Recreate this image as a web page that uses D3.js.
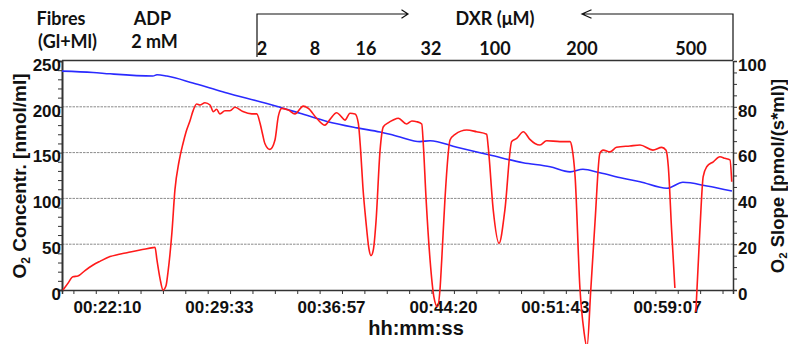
<!DOCTYPE html>
<html>
<head>
<meta charset="utf-8">
<script src="https://cdn.jsdelivr.net/npm/d3@7"></script>
<style>
  html, body { margin: 0; padding: 0; background: #fff; }
  svg { display: block; }
  .ax text { font-family: 'Liberation Sans', Arial, sans-serif; font-weight: bold; font-size: 17px; fill: #111; }
  .ax path, .ax line { stroke: #333; }
  .title { font-family: 'Liberation Sans', Arial, sans-serif; font-weight: bold; fill: #111; }
  .note { font-family: Lato, 'Open Sans', sans-serif; font-weight: bold; font-size: 18px; fill: #111; }
</style>
</head>
<body>
<svg id="chart" width="788" height="344"></svg>
<script>
// ---- data (time in seconds of the recording) ----
const o2Time = [1152,1275,1342,1512,1528,1567,1670,1738,1805,1936,2027,2094,2201,2320,2411,2450,2490,2569,2609,2715,2846,2977,3084,3163,3214,3281,3372,3440,3547,3610,3705,3804];
const o2Conc = [239,237.5,236,233.6,235,233.6,226,220.5,215,205.5,198.5,193,184,177,172.5,170,167,162,163,155.8,147.4,139,134.6,129,131.8,128,122,118.2,111,117.6,113.5,108];

const slopeTime = [1156,1176,1195,1215,1243,1275,1302,1342,1374,1409,1461,1512,1520,1528,1540,1552,1564,1571,1587,1599,1615,1631,1643,1659,1670,1685,1698,1718,1738,1751,1764,1777,1797,1817,1837,1868,1903,1923,1936,1946,1955,1975,1995,2008,2022,2048,2074,2107,2127,2160,2193,2213,2239,2252,2272,2292,2312,2325,2334,2343,2355,2367,2375,2385,2395,2411,2424,2443,2463,2483,2516,2537,2556,2576,2582,2593,2609,2624,2638,2648,2655,2668,2688,2708,2754,2793,2833,2839,2859,2882,2905,2932,2952,2978,3004,3024,3044,3070,3123,3163,3171,3183,3202,3218,3230,3245,3262,3281,3294,3321,3347,3400,3440,3491,3526,3543,3552,3565,3578,3620,3661,3677,3690,3704,3730,3756,3776,3796,3803];
const slopeVal = [0,3,5.8,6.1,8.5,10.9,12.5,14.6,15.5,16.3,17.5,18.5,18.7,13,5,0,2,7.3,25,43.7,56,64,69,74,78,81.2,80.8,81.8,80.8,77.9,78.9,76.9,78.3,78.3,79.8,77.9,76.9,76.9,72.8,68,64,61.4,65.5,75.7,79.3,78.6,76.9,80.3,79.3,75,72,74.5,77.4,76.4,74.2,77.2,76.9,72.8,61.1,45,30,18,15,18,30,61,71.3,73,74.2,75,72.5,73.8,73.5,72.5,64,40,13,-3,-7.3,0,13,40,65.5,68,69.9,69.1,68,62.6,34.9,20.4,34.9,64.8,66.2,69.1,65.8,64,63.3,65.2,64.8,64.8,62,49.5,1,-18,-25,0,30,59.7,61.1,60.3,62.3,62.9,63.3,61.1,62.3,61,53.8,26.2,0.9,null,-9.5,26.2,49.5,53.8,56,58.2,57.5,56.8,47.3];

const timeTickSec = [1330,1773,2217,2660,3103,3547];
const timeTickLabels = ["00:22:10","00:29:33","00:36:57","00:44:20","00:51:43","00:59:07"];
const leftTicks = [0,50,100,150,200,250];
const rightTicks = [0,20,40,60,80,100];
const doseLabels = ["2","8","16","32","100","200","500"];

// ---- layout ----
const svg = d3.select("#chart");
const L = 62, R = 733, T = 61, B = 290;
const x = d3.scaleLinear().domain([1152, 3808]).range([L, R]);
const yL = d3.scaleLinear().domain([0, 250]).range([B, T]);
const yR = d3.scaleLinear().domain([0, 100]).range([B, T]);

// grid
svg.append("g").selectAll("line").data(leftTicks.filter(d => d > 0 && d < 250)).join("line")
  .attr("x1", L).attr("x2", R).attr("y1", d => yL(d)).attr("y2", d => yL(d))
  .attr("stroke", "#8a8a8a").attr("stroke-width", 1).attr("stroke-dasharray", "2.5,1");

// left axis
const gl = svg.append("g").attr("class", "ax").attr("transform", `translate(${L},0)`)
  .call(d3.axisLeft(yL).tickValues(d3.range(0, 251, 10)).tickSize(4).tickPadding(-3)
    .tickFormat(d => leftTicks.includes(d) ? d : ""));
gl.selectAll("text").attr("dy", "0.55em");
gl.select(".domain").attr("stroke-width", 2);

// right axis
const gr = svg.append("g").attr("class", "ax").attr("transform", `translate(${R},0)`)
  .call(d3.axisRight(yR).tickValues(d3.range(0, 101, 5)).tickSize(4).tickPadding(1)
    .tickFormat(d => rightTicks.includes(d) ? d : ""));
gr.selectAll("text").attr("dy", "0.55em");
gr.select(".domain").attr("stroke-width", 1.5);

// bottom axis: minor ticks
const minorStep = (timeTickSec[1] - timeTickSec[0]) / 5;
const minorTicks = d3.range(-1, 30).map(k => timeTickSec[0] - minorStep / 2 + k * minorStep)
  .filter(t => t > 1152 && t < 3808);
const gb = svg.append("g").attr("class", "ax").attr("transform", `translate(0,${B})`)
  .call(d3.axisBottom(x).tickValues(minorTicks).tickSize(4).tickFormat(""));
gb.select(".domain").attr("stroke-width", 1.5);
const gbl = svg.append("g").attr("class", "ax").attr("transform", `translate(0,${B})`)
  .call(d3.axisBottom(x).tickValues(timeTickSec).tickSize(0).tickPadding(11)
    .tickFormat((d, i) => timeTickLabels[i]));
gbl.select(".domain").remove();

// top frame
svg.append("line").attr("x1", L).attr("x2", R).attr("y1", T - 0.5).attr("y2", T - 0.5)
  .attr("stroke", "#333").attr("stroke-width", 1.5);

// lines
const blueLine = d3.line().x((d, i) => x(o2Time[i])).y((d, i) => yL(o2Conc[i])).curve(d3.curveMonotoneX);
svg.append("path").datum(o2Conc).attr("d", blueLine)
  .attr("fill", "none").attr("stroke", "#2a2aff").attr("stroke-width", 1.6);

const redLine = d3.line().defined(d => d !== null)
  .x((d, i) => x(slopeTime[i])).y(d => yR(d)).curve(d3.curveMonotoneX);
svg.append("path").datum(slopeVal).attr("d", redLine)
  .attr("fill", "none").attr("stroke", "#ff1a1a").attr("stroke-width", 1.6);

// axis titles
const lt = svg.append("text").attr("class", "title").attr("font-size", 19)
  .attr("transform", "translate(25.5,176) rotate(-90)").attr("text-anchor", "middle");
lt.append("tspan").text("O");
lt.append("tspan").attr("font-size", 12).attr("dy", 4).text("2");
lt.append("tspan").attr("dy", -4).text(" Concentr. [nmol/ml]");

const rt = svg.append("text").attr("class", "title").attr("font-size", 18.5)
  .attr("transform", "translate(783.5,176) rotate(-90)").attr("text-anchor", "middle");
rt.append("tspan").text("O");
rt.append("tspan").attr("font-size", 11.5).attr("dy", 3).text("2");
rt.append("tspan").attr("dy", -3).text(" Slope [pmol/(s*ml)]");

svg.append("text").attr("class", "title").attr("font-size", 20)
  .attr("x", 416).attr("y", 335).attr("text-anchor", "middle").text("hh:mm:ss");

// top annotations
const notes = [
  {t: "Fibres", x: 61, y: 25}, {t: "(Gl+Ml)", x: 67.5, y: 48},
  {t: "ADP", x: 152.5, y: 25}, {t: "2 mM", x: 154.5, y: 48},
  {t: "DXR (\u03bcM)", x: 495, y: 25}
];
svg.append("g").selectAll("text").data(notes).join("text").attr("class", "note")
  .attr("x", d => d.x).attr("y", d => d.y).attr("text-anchor", "middle").text(d => d.t);

const dosePx = [262, 315, 366, 431, 495, 582, 691];
svg.append("g").selectAll("text").data(doseLabels).join("text").attr("class", "note")
  .attr("x", (d, i) => dosePx[i]).attr("y", 55).attr("text-anchor", "middle").text(d => d);

// bracket with arrows
const br = svg.append("g").attr("fill", "none").attr("stroke", "#111").attr("stroke-width", 1.2);
br.append("path").attr("d", "M257,57 V14 H408 M401.5,9.8 L408,14 L401.5,18.2");
br.append("path").attr("d", "M733,60 V14 H582 M591.5,9.8 L582,14 L591.5,18.2");
</script>
</body>
</html>
